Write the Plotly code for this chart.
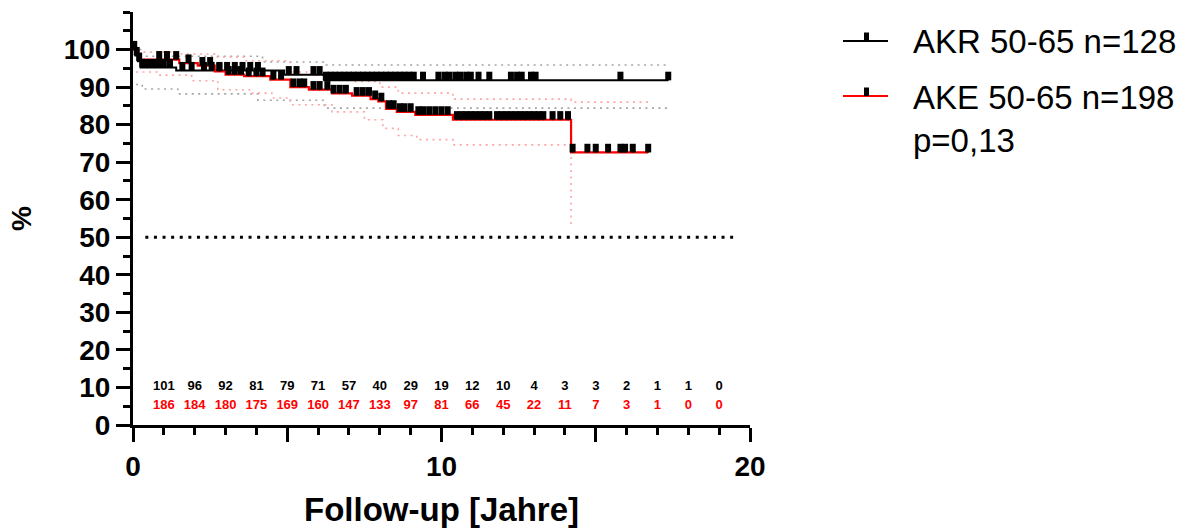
import numpy as np
import plotly.graph_objects as go

# ---------------- data ----------------
# Kaplan-Meier step curves: time [years], survival [%]
akr_time = [0, 0.08, 0.16, 0.25, 1.4, 4.9, 6.2, 17.35]
akr_surv = [100, 98.4, 96.9, 95.2, 94.4, 93.3, 91.8, 91.8]

ake_time = [0, 0.1, 0.2, 1.5, 2.1, 2.65, 3.0, 3.6, 4.45, 5.1, 5.7, 6.45, 7.1, 7.7,
            7.95, 8.2, 8.55, 9.15, 10.37, 14.2, 16.7]
ake_surv = [100, 98.8, 97.3, 96.4, 95.7, 94.2, 93.3, 92.9, 92.0, 90.0, 89.3, 88.3,
            87.7, 86.8, 86.2, 84.2, 83.4, 82.6, 81.3, 72.6, 72.6]

# censored observations (times)
akr_censor = [0.04, 0.12, 0.2, 0.3, 0.42, 0.55, 0.7, 0.85, 1.0, 1.2, 1.6, 1.9, 2.3,
              2.55, 2.8, 3.05, 3.3, 3.55, 3.8, 4.05, 5.05, 5.3, 5.85, 6.05, 6.25,
              6.4, 6.55, 6.7, 6.85, 7.0, 7.15, 7.3, 7.45, 7.6, 7.75, 7.9, 8.05, 8.2,
              8.35, 8.5, 8.65, 8.8, 8.95, 9.1, 9.4, 9.9, 10.1, 10.25, 10.45, 10.6,
              10.8, 10.95, 11.2, 11.55, 12.25, 12.45, 12.6, 12.9, 13.05, 15.8, 17.35]
ake_censor = [0.85, 1.1, 1.4, 1.8, 2.25, 2.5, 2.8, 3.1, 3.3, 3.5, 3.75, 4.0, 4.2,
              4.55, 4.8, 5.2, 5.4, 5.55, 5.85, 6.05, 6.3, 6.5, 6.7, 6.9, 7.25, 7.45,
              7.65, 7.85, 8.05, 8.3, 8.45, 8.65, 8.8, 9.0, 9.25, 9.4, 9.6, 9.8, 10.0,
              10.2, 10.5, 10.65, 10.8, 10.95, 11.1, 11.25, 11.4, 11.55, 11.8, 11.95,
              12.1, 12.25, 12.4, 12.55, 12.7, 12.85, 13.0, 13.15, 13.3, 13.6, 13.85,
              14.1, 14.25, 14.73, 15.0, 15.4, 15.8, 15.95, 16.2, 16.7]

# 95% confidence bands (step)
akr_upper_t = [0, 0.25, 4.2, 6.2, 17.35]
akr_upper = [100, 98.2, 96.7, 95.9, 95.9]
akr_lower_t = [0.1, 0.3, 1.45, 4.05, 6.2, 17.35]
akr_lower = [90.7, 89.5, 88.2, 86.5, 84.4, 84.4]
ake_upper_t = [0, 0.2, 1.5, 2.65, 3.6, 5.1, 5.8, 7.1, 8.0, 8.6, 10.37, 14.2, 16.7]
ake_upper = [100, 99.3, 98.8, 98.0, 97.0, 94.0, 93.2, 91.5, 90.0, 88.4, 86.8, 86.0, 86.0]
ake_lower_t = [0.1, 0.8, 1.9, 2.75, 3.85, 4.5, 5.1, 6.45, 7.5, 8.1, 8.6, 9.2, 10.37, 14.2]
ake_lower = [94.0, 93.2, 91.7, 89.3, 88.4, 87.1, 85.3, 83.4, 81.3, 79.0, 77.1, 76.0, 74.6, 52.5]

# numbers at risk
risk_times = list(range(1, 20))
akr_risk = [101, 96, 92, 81, 79, 71, 57, 40, 29, 19, 12, 10, 4, 3, 3, 2, 1, 1, 0]
ake_risk = [186, 184, 180, 175, 169, 160, 147, 133, 97, 81, 66, 45, 22, 11, 7, 3, 1, 0, 0]

median_line_x = [0.4, 19.6]
median_line_y = [50, 50]

legend_labels = ["AKR 50-65 n=128", "AKE 50-65 n=198"]
p_text = "p=0,13"

# ---------------- styles ----------------
FONT = "Liberation Sans, Arial, sans-serif"
BLACK = "#000000"
RED = "#ff0000"
GRAY_CI = "rgb(165,165,165)"
PINK_CI = "rgb(255,165,165)"

W, H = 1192, 532
ML, MR, MT, MB = 133, 442, 12, 107


def step_eval(times, surv, t):
    idx = np.searchsorted(np.asarray(times), np.asarray(t), side="right") - 1
    return np.asarray(surv)[idx]


fig = go.Figure()

# confidence bands
for tx, sy, col in [(akr_upper_t, akr_upper, GRAY_CI), (akr_lower_t, akr_lower, GRAY_CI),
                    (ake_upper_t, ake_upper, PINK_CI), (ake_lower_t, ake_lower, PINK_CI)]:
    fig.add_trace(go.Scatter(x=tx, y=sy, mode="lines", line_shape="hv",
                             line=dict(color=col, width=1.6, dash="2px,4.5px"),
                             hoverinfo="skip", showlegend=False))

# 50% reference line
fig.add_trace(go.Scatter(x=median_line_x, y=median_line_y, mode="lines",
                         line=dict(color=BLACK, width=3, dash="3px,5.6px"),
                         hoverinfo="skip", showlegend=False))

# survival curves
fig.add_trace(go.Scatter(x=akr_time, y=akr_surv, mode="lines", line_shape="hv",
                         line=dict(color=BLACK, width=2), name=legend_labels[0],
                         showlegend=False))
fig.add_trace(go.Scatter(x=ake_time, y=ake_surv, mode="lines", line_shape="hv",
                         line=dict(color=RED, width=2.2), name=legend_labels[1],
                         showlegend=False))

# censor ticks (drawn as upward bars)
for ct, tt, ss in [(akr_censor, akr_time, akr_surv), (ake_censor, ake_time, ake_surv)]:
    yy = step_eval(tt, ss, ct)
    n = len(ct)
    fig.add_trace(go.Scatter(x=ct, y=yy, mode="markers",
                             marker=dict(size=1, color=BLACK),
                             error_y=dict(type="data", symmetric=False,
                                          array=[2.3] * n, arrayminus=[0] * n,
                                          width=0, thickness=6, color=BLACK),
                             hoverinfo="skip", showlegend=False, cliponaxis=False))

# numbers at risk
fig.add_trace(go.Scatter(x=risk_times, y=[10.3] * len(risk_times), mode="text",
                         text=[str(v) for v in akr_risk],
                         textfont=dict(family=FONT, size=13, color=BLACK, weight=700),
                         hoverinfo="skip", showlegend=False, cliponaxis=False))
fig.add_trace(go.Scatter(x=risk_times, y=[5.1] * len(risk_times), mode="text",
                         text=[str(v) for v in ake_risk],
                         textfont=dict(family=FONT, size=13, color=RED, weight=700),
                         hoverinfo="skip", showlegend=False, cliponaxis=False))


# ---------------- manual legend ----------------
def px(x):
    return (x - ML) / (W - ML - MR)


def py(y):
    return (H - MB - y) / (H - MT - MB)


shapes = []
for yy, col in [(41, BLACK), (96, RED)]:
    shapes.append(dict(type="line", xref="paper", yref="paper", x0=px(843), x1=px(888),
                       y0=py(yy), y1=py(yy), line=dict(color=col, width=2)))
    shapes.append(dict(type="line", xref="paper", yref="paper", x0=px(866.5), x1=px(866.5),
                       y0=py(yy), y1=py(yy - 8.5), line=dict(color=BLACK, width=5)))

annotations = []
for yy, txt in [(42, legend_labels[0]), (97, legend_labels[1]), (140, p_text)]:
    annotations.append(dict(xref="paper", yref="paper", x=px(911), y=py(yy),
                            xanchor="left", yanchor="middle", text=txt, showarrow=False,
                            font=dict(family=FONT, size=33, color=BLACK)))

fig.update_layout(
    width=W, height=H,
    margin=dict(l=ML, r=MR, t=MT, b=MB, pad=0),
    plot_bgcolor="white", paper_bgcolor="white",
    shapes=shapes, annotations=annotations,
    showlegend=False,
    xaxis=dict(range=[0, 20], showgrid=False, zeroline=False, automargin=False,
               showline=True, linecolor=BLACK, linewidth=3,
               ticks="outside", tickvals=[0, 5, 10, 15, 20],
               ticktext=["0", "", "10", "", "20"], ticklen=14, tickwidth=3,
               tickcolor=BLACK,
               minor=dict(dtick=1, ticks="outside", ticklen=7, tickwidth=3, tickcolor=BLACK),
               tickfont=dict(family=FONT, size=28, color=BLACK, weight=700),
               title=dict(text="Follow-up [Jahre]", standoff=18,
                          font=dict(family=FONT, size=33, color=BLACK, weight=700))),
    yaxis=dict(range=[0, 110], showgrid=False, zeroline=False, automargin=False,
               showline=True, linecolor=BLACK, linewidth=3,
               ticks="outside", tickvals=list(range(0, 101, 10)), ticklen=14,
               tickwidth=3, tickcolor=BLACK,
               minor=dict(dtick=5, ticks="outside", ticklen=7, tickwidth=3, tickcolor=BLACK),
               tickfont=dict(family=FONT, size=28, color=BLACK, weight=700),
               title=dict(text="%", standoff=24,
                          font=dict(family=FONT, size=28, color=BLACK, weight=700))),
)

fig.write_html("out.html")
